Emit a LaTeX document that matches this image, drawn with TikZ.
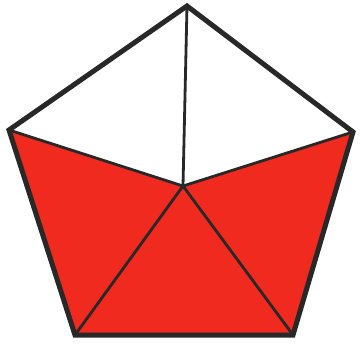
\documentclass[tikz,border=0pt]{standalone}
\definecolor{PieceRed}{RGB}{240, 42, 30}
\definecolor{EdgeGray}{RGB}{40, 40, 40}
\usetikzlibrary{calc}

\begin{document}
\begin{tikzpicture}[x=1pt, y=-1pt, line join=miter,
  piece/.style={fill=PieceRed},
  spoke/.style={EdgeGray, line width=2.8pt},
  rim/.style={EdgeGray, line width=5pt}]
\useasboundingbox (0,0) rectangle (361,345);
% corners of the pentagon and its centre
\coordinate (top) at (187,6);
\coordinate (rgt) at (353,132);
\coordinate (brt) at (293,335);
\coordinate (blt) at (75,335);
\coordinate (lft) at (9,130);
\coordinate (mid) at (183,186);
% the three red pieces
\fill[piece] (lft) -- (mid) -- (rgt) -- (brt) -- (blt) -- cycle;
% spokes from the centre
\foreach \p in {top, rgt, brt, blt, lft}
  \draw[spoke] (mid) -- (\p);
\draw[rim] (top) -- (rgt) -- (brt) -- (blt) -- (lft) -- cycle;
\end{tikzpicture}
\end{document}
